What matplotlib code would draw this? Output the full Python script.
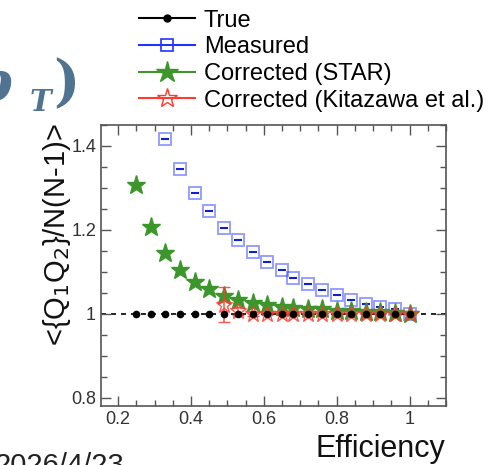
import matplotlib
matplotlib.use("Agg")
import matplotlib.pyplot as plt
from matplotlib.lines import Line2D
from matplotlib.ticker import MultipleLocator

plt.rcParams['font.family'] = ['Liberation Sans', 'DejaVu Sans']

# efficiency values
eff = [0.25, 0.29, 0.33, 0.37, 0.41, 0.45, 0.49, 0.53, 0.57, 0.61,
       0.65, 0.68, 0.72, 0.76, 0.80, 0.84, 0.88, 0.92, 0.96, 1.0]

# true value
true_val = [1.0] * len(eff)

# measured (starts at eff = 0.33)
meas_eff = eff[2:]
meas_val = [1.417, 1.345, 1.288, 1.245, 1.205, 1.176, 1.148, 1.124, 1.105,
            1.086, 1.071, 1.057, 1.045, 1.033, 1.024, 1.017, 1.010, 1.0]

# corrected, STAR method
star_val = [1.307, 1.207, 1.145, 1.105, 1.076, 1.060, 1.043, 1.033, 1.026, 1.021,
            1.017, 1.014, 1.012, 1.010, 1.007, 1.006, 1.005, 1.004, 1.002, 1.0]

# corrected, Kitazawa et al. (starts at eff = 0.49)
kit_eff = eff[6:]
kit_val = [1.021, 1.007, 1.0, 1.0, 1.0, 1.0, 1.0, 1.0, 1.0, 1.0, 1.0, 1.0, 1.0, 1.0]
kit_err = [0.042, 0.010, 0.005, 0.004, 0.003, 0.003, 0.002, 0.002, 0.002, 0.001,
           0.001, 0.001, 0.001, 0.0]

labels = ['True', 'Measured', 'Corrected (STAR)', 'Corrected (Kitazawa et al.)']

c_blue  = '#2233ff'
c_green = '#3c962c'
c_red   = '#ff3b30'
c_title = '#4f7391'

fig = plt.figure(figsize=(4.89, 4.65), dpi=100)
ax = fig.add_axes([0.2065, 0.127, 0.7055, 0.6043])

ax.axhline(1.0, color='black', ls=(0, (3, 3)), lw=1.2, zorder=1)

ax.plot(meas_eff, meas_val, ls='none', marker='s', ms=8, mfc='none',
        mec=c_blue, mew=1.3, alpha=0.5, zorder=3)
ax.plot(meas_eff, meas_val, ls='none', marker='_', ms=6, mec='#1020d0',
        mew=1.5, zorder=3)

ax.plot(eff, star_val, ls='none', marker='*', ms=14, color=c_green,
        mec=c_green, zorder=4)

ax.errorbar(kit_eff, kit_val, yerr=kit_err, ls='none', marker='*', ms=12,
            mfc='none', mec=c_red, mew=1.0, ecolor=c_red, elinewidth=1.2,
            capsize=4, capthick=1.2, alpha=0.85, zorder=5)

ax.plot(eff, true_val, ls='none', marker='o', ms=4.5, color='black', zorder=6)

ax.set_xlim(0.153, 1.1)
ax.set_ylim(0.78, 1.45)
ax.xaxis.set_minor_locator(MultipleLocator(0.05))
ax.yaxis.set_minor_locator(MultipleLocator(0.05))
ax.set_xticks([0.2, 0.4, 0.6, 0.8, 1.0], ['0.2', '0.4', '0.6', '0.8', '1'])
ax.set_yticks([0.8, 1.0, 1.2, 1.4], ['0.8', '1', '1.2', '1.4'])
ax.tick_params(which='both', direction='in', top=True, right=True,
               colors='#555555', labelcolor='#333333', labelsize=13)
ax.tick_params(which='major', length=7, width=1)
ax.tick_params(which='minor', length=4, width=1)
for s in ax.spines.values():
    s.set_color('#555555')
    s.set_linewidth(1.2)

fig.text(0.91, 0.018, 'Efficiency', fontsize=22, ha='right', va='baseline',
         color='#111111')
fig.text(0.117, 0.495, r'<{Q$_1$Q$_2$}/N(N-1)>', fontsize=21, rotation=90,
         ha='center', va='center', color='#111111')

# legend with lines through the markers
handles = [
    Line2D([], [], color='black', lw=1.5, marker='o', ms=5),
    Line2D([], [], color=c_blue, lw=1.5, marker='s', ms=9, mfc='none', mew=1.2),
    Line2D([], [], color=c_green, lw=1.5, marker='*', ms=16),
    Line2D([], [], color=c_red, lw=1.5, marker='*', ms=15, mfc='none', mew=1.0),
]
fig.legend(handles, labels, loc='upper left', bbox_to_anchor=(0.25, 1.015),
           frameon=False, fontsize=17, handlelength=2.4, handletextpad=0.35,
           labelspacing=0.2, borderpad=0.2)

# slide fragments around the chart (title cut at the left edge)
fig.text(0.024, 0.785, '\u03c1', fontsize=40, fontweight='bold',
         style='italic', family='DejaVu Serif', color=c_title,
         ha='right', va='baseline')
fig.text(0.061, 0.762, 'T', fontsize=21, fontweight='bold', style='italic',
         family='DejaVu Serif', color=c_title, ha='left', va='baseline')
fig.text(0.108, 0.785, ')', fontsize=40, fontweight='bold',
         family='DejaVu Serif', color=c_title, ha='left', va='baseline')
fig.text(-0.012, 0.028, '2026/4/23', fontsize=21, color='#222222',
         ha='left', va='top')

fig.savefig('out.png', dpi=100)
